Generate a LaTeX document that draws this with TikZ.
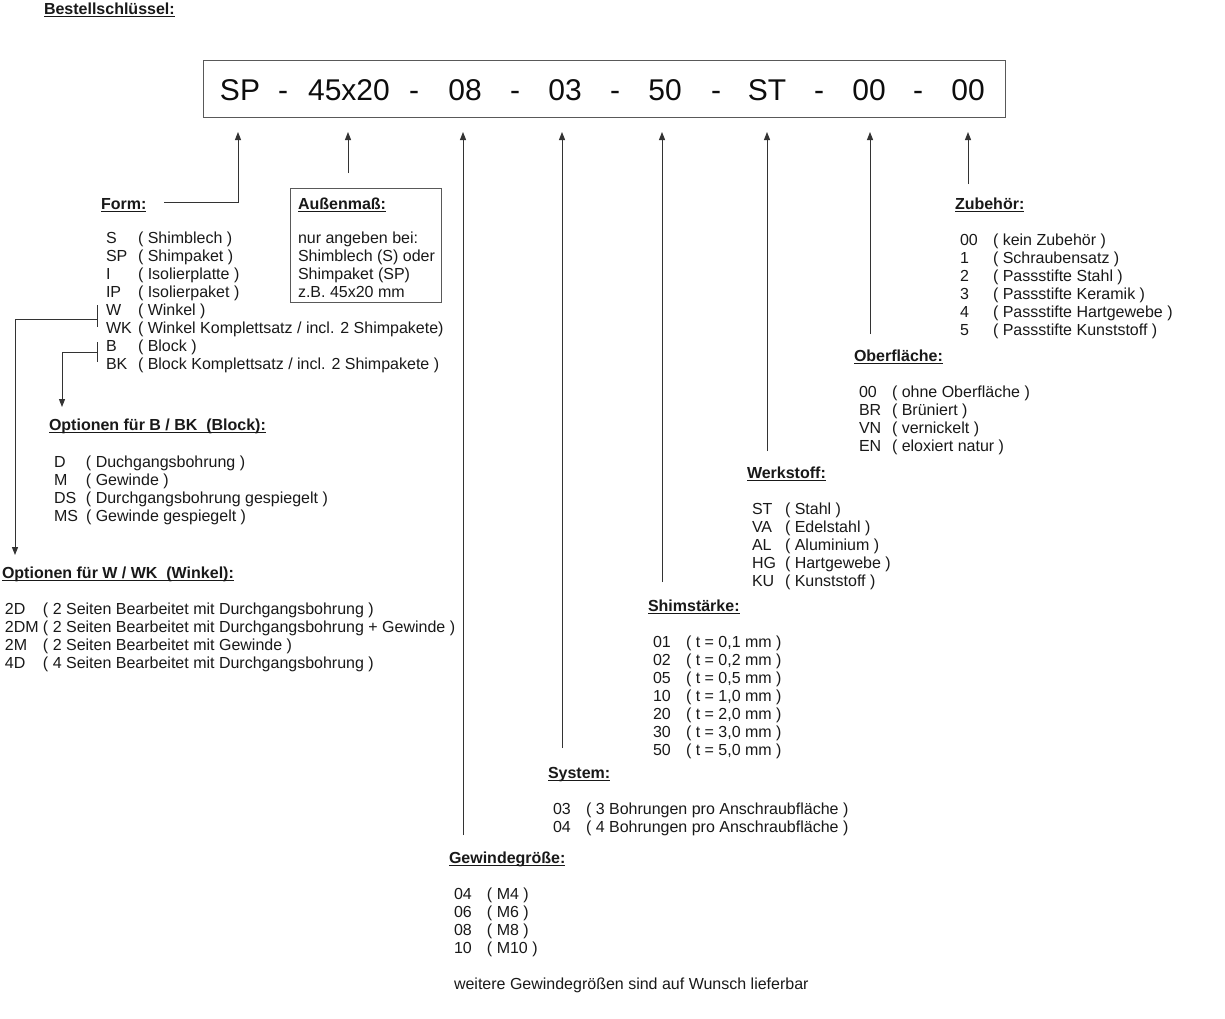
\documentclass[tikz,border=0pt]{standalone}
\usepackage{fontspec}
\setmainfont{Liberation Sans}
\usetikzlibrary{arrows.meta}
\newcommand\myul[1]{\setbox0\hbox{#1}\rlap{\rule[-2.6pt]{\wd0}{1.1pt}}\box0}
\newcommand\mylist[2]{\begin{tabular}[t]{@{}p{#1}@{}l@{}}#2\end{tabular}}
\begin{document}
\begin{tikzpicture}[x=1pt,y=-1pt,
  txt/.style={anchor=base west,inner sep=0pt,outer sep=0pt,font=\fontsize{16}{18}\selectfont,text=black!90},
  hd/.style={txt,font=\fontsize{16}{18}\selectfont\bfseries},
  code/.style={anchor=base,inner sep=0pt,outer sep=0pt,font=\fontsize{30}{36}\selectfont,text=black!95},
  ln/.style={draw=black!80,line width=1pt},
  arr/.style={ln,-{Triangle[length=8pt,width=6pt]}},
  frame/.style={draw=black!65,line width=1pt,inner sep=0pt,anchor=north west}]
\useasboundingbox (0,0) rectangle (1225,1018);
\fill[white] (0,0) rectangle (1225,1018);

% title
\node[hd] (title) at (44,14) {\myul{Bestellschlüssel:}};

% code box
\node[frame,minimum width=802pt,minimum height=57pt] (codebox) at (203,60) {};
\foreach \x/\t/\n in {240/SP/k1,283/-/d1,349/45x20/k2,414/-/d2,465/08/k3,515/-/d3,565/03/k4,615/-/d4,665/50/k5,716/-/d5,767/ST/k6,819/-/d6,869/00/k7,918/-/d7,968/00/k8}{
  \node[code] (\n) at (\x,100) {\t};
}

% arrow tips below the code
\foreach \n/\x in {t1/238,t2/348,t3/463,t4/562,t5/662,t6/767,t7/870,t8/968}{
  \coordinate (\n) at (\x,132);
}
\coordinate (b1) at (164,202);
\coordinate (b2) at (348,173);
\coordinate (b3) at (463,835);
\coordinate (b4) at (562,748);
\coordinate (b5) at (662,582);
\coordinate (b6) at (767,451);
\coordinate (b7) at (870,334);
\coordinate (b8) at (968,184);
\draw[arr] (b1) -| (t1);
\foreach \i in {2,...,8}{ \draw[arr] (b\i) -- (t\i); }

% Form
\node[hd] (formh) at (101,209) {\myul{Form:}};
\node[txt] (forml) at (106,243) {\mylist{32pt}{S & ( Shimblech )\\ SP & ( Shimpaket )\\ I & ( Isolierplatte )\\ IP & ( Isolierpaket )\\ W & ( Winkel )\\ WK & ( Winkel Komplettsatz / incl. 2 Shimpakete)\\ B & ( Block )\\ BK & ( Block Komplettsatz / incl. 2 Shimpakete )}};

% brackets
\coordinate (wt) at (97,305); \coordinate (wb) at (97,327);
\coordinate (wm) at (97,319); \coordinate (wl) at (15,319); \coordinate (wend) at (15,555);
\draw[ln] (wt) -- (wb);
\draw[arr] (wm) -- (wl) -- (wend);
\coordinate (bt) at (97,342); \coordinate (bb) at (97,362);
\coordinate (bm) at (97,352); \coordinate (bl) at (62,352); \coordinate (bend) at (62,407);
\draw[ln] (bt) -- (bb);
\draw[arr] (bm) -- (bl) -- (bend);

% Aussenmass
\node[frame,minimum width=151pt,minimum height=114pt] (abox) at (290,188) {};
\node[hd] (ah) at (298,209) {\myul{Außenmaß:}};
\node[txt] (at) at (298,243) {\begin{tabular}[t]{@{}l@{}}nur angeben bei:\\ Shimblech (S) oder\\ Shimpaket (SP)\\ z.B. 45x20 mm\end{tabular}};

% Optionen Block
\node[hd] (obh) at (49,430) {\myul{Optionen für B / BK\ \ (Block):}};
\node[txt] (obl) at (54,467) {\mylist{32pt}{D & ( Duchgangsbohrung )\\ M & ( Gewinde )\\ DS & ( Durchgangsbohrung gespiegelt )\\ MS & ( Gewinde gespiegelt )}};

% Optionen Winkel
\node[hd] (owh) at (2,578) {\myul{Optionen für W / WK\ \ (Winkel):}};
\node[txt] (owl) at (5,614) {\mylist{38pt}{2D & ( 2 Seiten Bearbeitet mit Durchgangsbohrung )\\ 2DM & ( 2 Seiten Bearbeitet mit Durchgangsbohrung + Gewinde )\\ 2M & ( 2 Seiten Bearbeitet mit Gewinde )\\ 4D & ( 4 Seiten Bearbeitet mit Durchgangsbohrung )}};

% Gewindegroesse
\node[hd] (gh) at (449,863) {\myul{Gewindegröße:}};
\node[txt] (gl) at (454,899) {\mylist{33pt}{04 & ( M4 )\\ 06 & ( M6 )\\ 08 & ( M8 )\\ 10 & ( M10 )}};
\node[txt] (gw) at (454,989) {weitere Gewindegrößen sind auf Wunsch lieferbar};

% System
\node[hd] (sh) at (548,778) {\myul{System:}};
\node[txt] (sl) at (553,814) {\mylist{33pt}{03 & ( 3 Bohrungen pro Anschraubfläche )\\ 04 & ( 4 Bohrungen pro Anschraubfläche )}};

% Shimstaerke
\node[hd] (shh) at (648,611) {\myul{Shimstärke:}};
\node[txt] (shl) at (653,647) {\mylist{33pt}{01 & ( t = 0,1 mm )\\ 02 & ( t = 0,2 mm )\\ 05 & ( t = 0,5 mm )\\ 10 & ( t = 1,0 mm )\\ 20 & ( t = 2,0 mm )\\ 30 & ( t = 3,0 mm )\\ 50 & ( t = 5,0 mm )}};

% Werkstoff
\node[hd] (wh) at (747,478) {\myul{Werkstoff:}};
\node[txt] (wl) at (752,514) {\mylist{33pt}{ST & ( Stahl )\\ VA & ( Edelstahl )\\ AL & ( Aluminium )\\ HG & ( Hartgewebe )\\ KU & ( Kunststoff )}};

% Oberflaeche
\node[hd] (oh) at (854,361) {\myul{Oberfläche:}};
\node[txt] (ol) at (859,397) {\mylist{33pt}{00 & ( ohne Oberfläche )\\ BR & ( Brüniert )\\ VN & ( vernickelt )\\ EN & ( eloxiert natur )}};

% Zubehoer
\node[hd] (zh) at (955,209) {\myul{Zubehör:}};
\node[txt] (zl) at (960,245) {\mylist{33pt}{00 & ( kein Zubehör )\\ 1 & ( Schraubensatz )\\ 2 & ( Passstifte Stahl )\\ 3 & ( Passstifte Keramik )\\ 4 & ( Passstifte Hartgewebe )\\ 5 & ( Passstifte Kunststoff )}};
\end{tikzpicture}
\end{document}
